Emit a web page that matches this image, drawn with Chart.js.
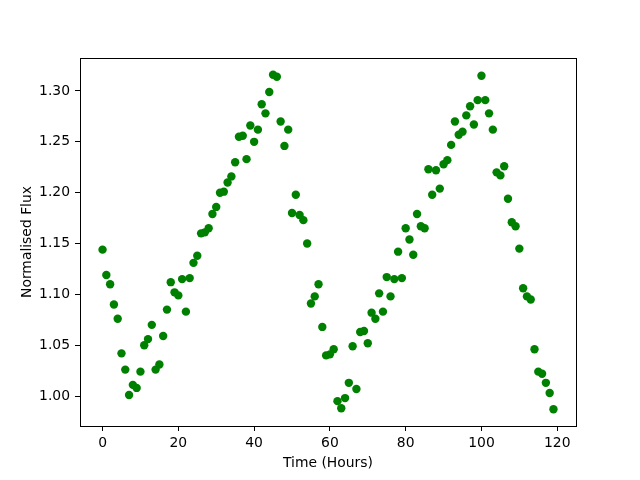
<!DOCTYPE html>
<html>
<head>
<meta charset="utf-8">
<script src="https://cdn.jsdelivr.net/npm/chart.js@4/dist/chart.umd.min.js"></script>
<style>
html,body{margin:0;padding:0;background:#fff;}
canvas{display:block;}
</style>
</head>
<body>
<canvas id="c" width="640" height="480"></canvas>
<script>
const hours = [0,1,2,3,4,5,6,7,8,9,10,11,12,13,14,15,16,17,18,19,20,21,22,23,24,25,26,27,28,29,
30,31,32,33,34,35,36,37,38,39,40,41,42,43,44,45,46,47,48,49,50,51,52,53,54,55,56,57,58,59,
60,61,62,63,64,65,66,67,68,69,70,71,72,73,74,75,76,77,78,79,80,81,82,83,84,85,86,87,88,89,
90,91,92,93,94,95,96,97,98,99,100,101,102,103,104,105,106,107,108,109,110,111,112,113,114,115,116,117,118,119];
const flux = [1.144,1.119,1.110,1.090,1.076,1.042,1.026,1.001,1.011,1.008,
1.024,1.050,1.056,1.070,1.026,1.031,1.059,1.085,1.112,1.102,
1.099,1.115,1.083,1.116,1.131,1.138,1.160,1.161,1.165,1.179,
1.186,1.200,1.201,1.210,1.216,1.230,1.255,1.256,1.233,1.266,
1.250,1.262,1.287,1.278,1.299,1.316,1.314,1.270,1.246,1.262,
1.180,1.198,1.178,1.173,1.150,1.091,1.098,1.110,1.068,1.040,
1.041,1.046,0.995,0.988,0.998,1.013,1.049,1.007,1.063,1.064,
1.052,1.082,1.076,1.101,1.083,1.117,1.098,1.115,1.142,1.116,
1.165,1.154,1.139,1.179,1.167,1.165,1.223,1.198,1.222,1.204,
1.228,1.232,1.247,1.270,1.257,1.260,1.276,1.285,1.267,1.291,
1.315,1.291,1.278,1.262,1.220,1.217,1.226,1.194,1.171,1.167,
1.145,1.106,1.098,1.095,1.046,1.024,1.022,1.013,1.003,0.987];
const xTicks = [0,20,40,60,80,100,120];
const yTicks = [1.00,1.05,1.10,1.15,1.20,1.25,1.30];
const xLabel = 'Time (Hours)';
const yLabel = 'Normalised Flux';

const pts = hours.map((h,i)=>({x:h,y:flux[i]}));
const xmin = Math.min(...hours), xmax = Math.max(...hours);
const ymin = Math.min(...flux), ymax = Math.max(...flux);
const mx = (xmax-xmin)*0.05, my = (ymax-ymin)*0.05;
const FONT = {family:'"DejaVu Sans", sans-serif', size:13.9};

const frame = {
  id:'frame',
  afterDatasetsDraw(chart){
    const {ctx, chartArea:a} = chart;
    ctx.save();
    ctx.strokeStyle='#000';
    ctx.lineWidth=1;
    ctx.strokeRect(Math.round(a.left)+0.5, Math.round(a.top)+0.5, Math.round(a.right-a.left), Math.round(a.bottom-a.top));
    ctx.restore();
  }
};

new Chart(document.getElementById('c'), {
  type:'scatter',
  data:{datasets:[{data:pts, backgroundColor:'#008000', borderColor:'#008000', borderWidth:0, pointRadius:4.2, pointHoverRadius:4.2}]},
  options:{
    responsive:false, animation:false, devicePixelRatio:1,
    layout:{padding:{left:0, top:58, right:64, bottom:0}},
    plugins:{legend:{display:false}, tooltip:{enabled:false}},
    scales:{
      x:{
        type:'linear', min:xmin-mx, max:xmax+mx,
        afterBuildTicks(s){ s.ticks = xTicks.map(v=>({value:v})); },
        afterFit(s){ s.height = 54; },
        grid:{drawOnChartArea:false, drawTicks:true, tickLength:5, color:'#000', lineWidth:1},
        border:{display:true, color:'#000', width:1},
        ticks:{font:FONT, color:'#000', padding:4, maxRotation:0, callback:v=>String(v)},
        title:{display:true, text:xLabel, font:FONT, color:'#000', padding:{top:0,bottom:8.6}}
      },
      y:{
        type:'linear', min:ymin-my, max:ymax+my,
        afterBuildTicks(s){ s.ticks = yTicks.map(v=>({value:v})); },
        afterFit(s){ s.width = 80; },
        grid:{drawOnChartArea:false, drawTicks:true, tickLength:5, color:'#000', lineWidth:1},
        border:{display:true, color:'#000', width:1},
        ticks:{font:FONT, color:'#000', padding:5, callback:v=>Number(v).toFixed(2)},
        title:{display:true, text:yLabel, font:FONT, color:'#000', padding:{top:18.6,bottom:0}}
      }
    }
  },
  plugins:[frame]
});
</script>
</body>
</html>
